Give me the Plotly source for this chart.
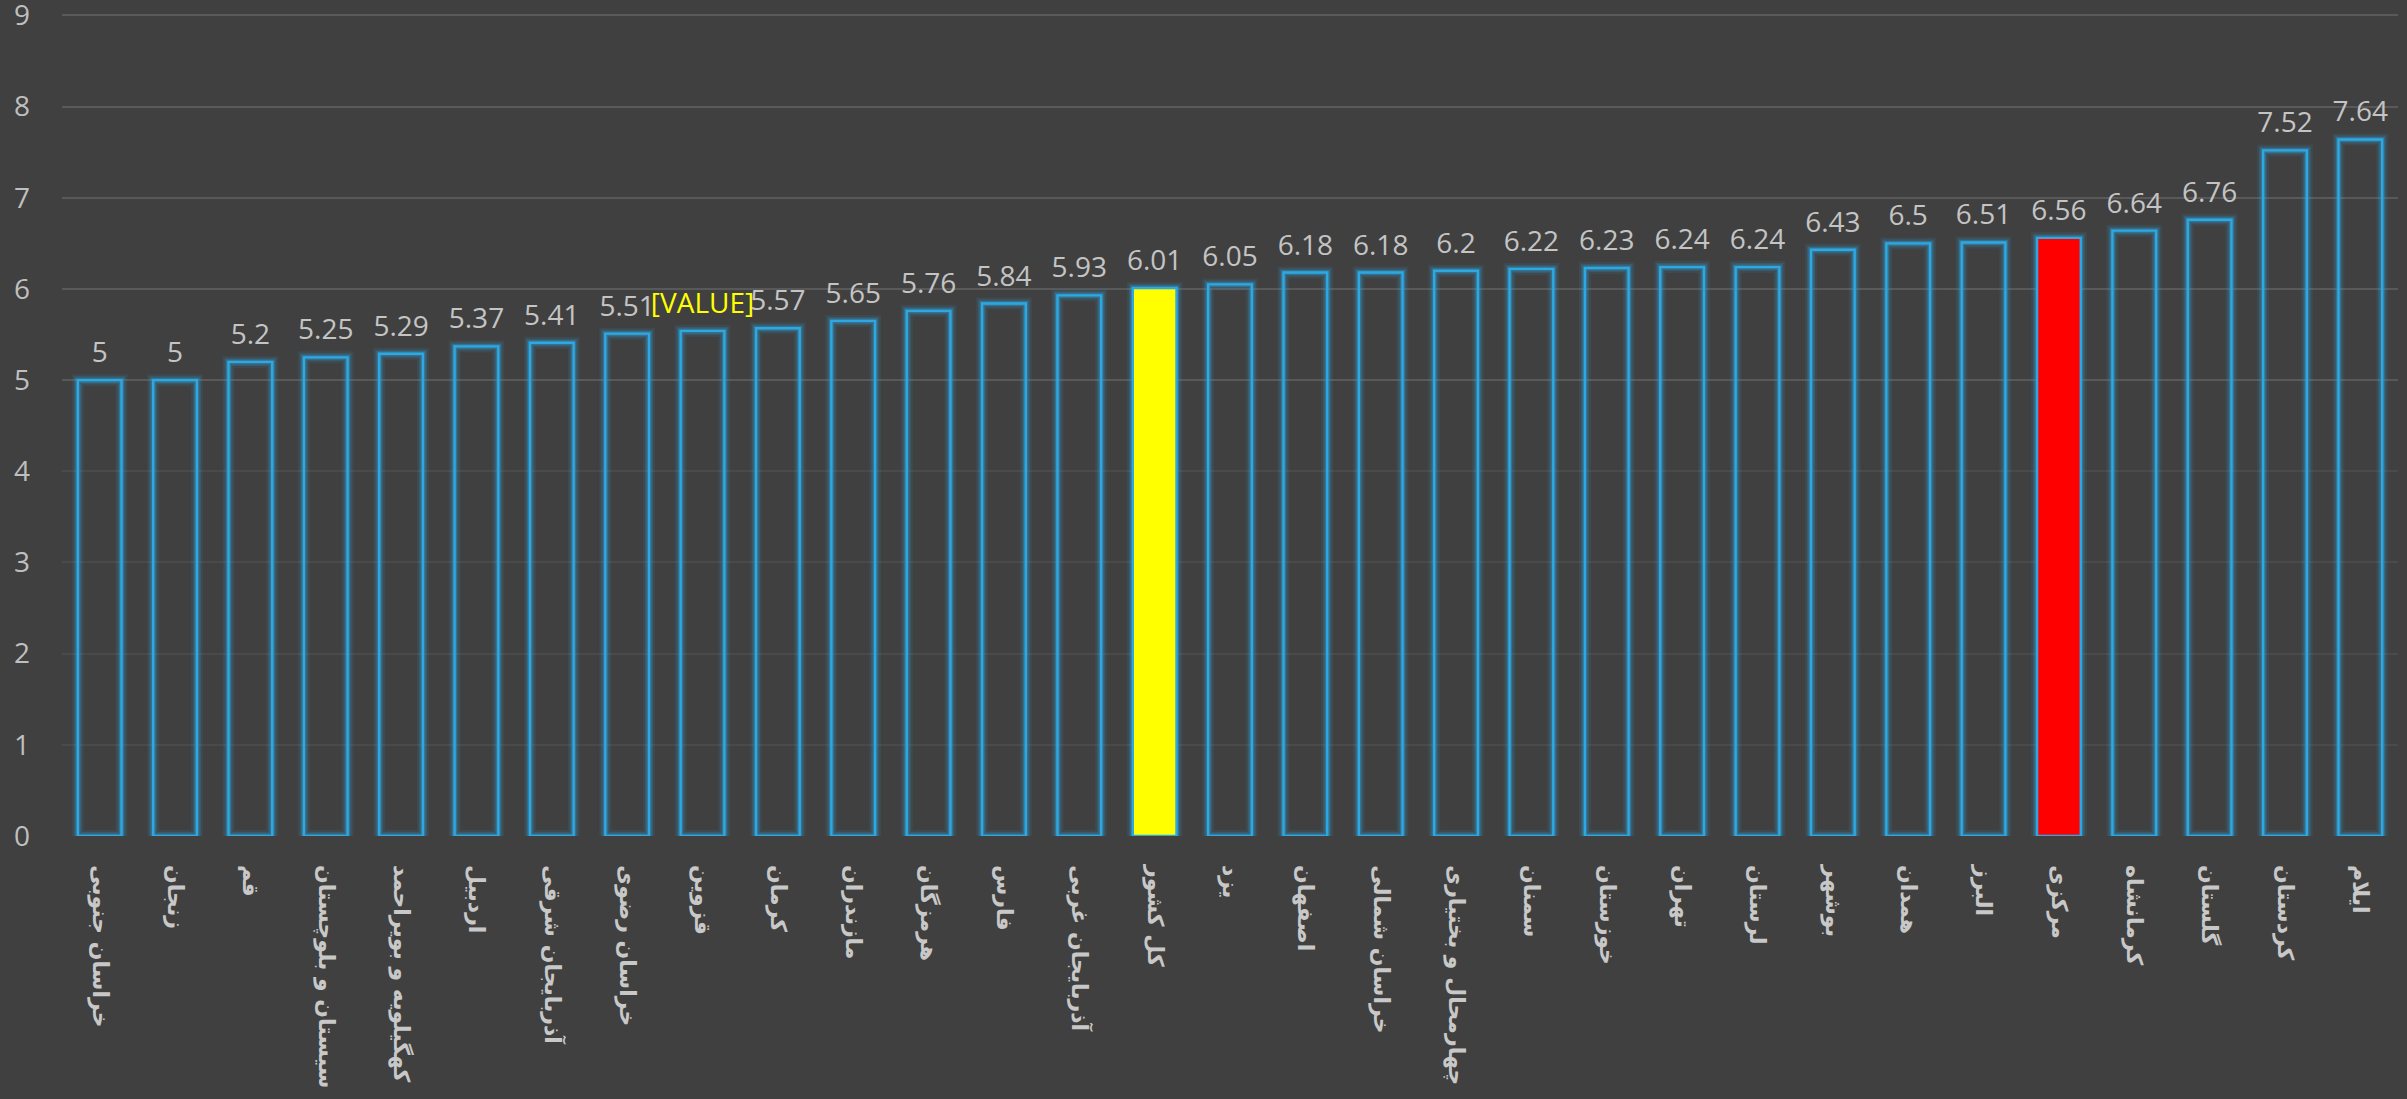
import plotly.graph_objects as go

categories = ["خراسان جنوبی", "زنجان", "قم", "سیستان و بلوچستان", "کهگیلویه و بویراحمد",
              "اردبیل", "آذربایجان شرقی", "خراسان رضوی", "قزوین", "کرمان", "مازندران",
              "هرمزگان", "فارس", "آذربایجان غربی", "کل کشور", "یزد", "اصفهان",
              "خراسان شمالی", "چهارمحال و بختیاری", "سمنان", "خوزستان", "تهران",
              "لرستان", "بوشهر", "همدان", "البرز", "مرکزی", "کرمانشاه", "گلستان",
              "کردستان", "ایلام"]
values = [5, 5, 5.2, 5.25, 5.29, 5.37, 5.41, 5.51, 5.54, 5.57, 5.65, 5.76, 5.84, 5.93,
          6.01, 6.05, 6.18, 6.18, 6.2, 6.22, 6.23, 6.24, 6.24, 6.43, 6.5, 6.51, 6.56,
          6.64, 6.76, 7.52, 7.64]
labels = [f"{v:g}" for v in values]
labels[categories.index("قزوین")] = "[VALUE]"

BG = "#404040"
BLUE = "#2ea8e2"
fills = ["rgba(0,0,0,0)"] * len(categories)
fills[categories.index("کل کشور")] = "#ffff00"
fills[categories.index("مرکزی")] = "#ff0000"
label_colors = ["#c4c4c4"] * len(categories)
label_colors[categories.index("قزوین")] = "#ffff00"

fig = go.Figure()
# glow layers
for w, a in [(12, 0.10), (8, 0.18), (5, 0.30)]:
    fig.add_trace(go.Bar(x=categories, y=values, marker=dict(color="rgba(0,0,0,0)",
                  line=dict(color=f"rgba(46,168,226,{a})", width=w)),
                  hoverinfo="skip", showlegend=False))
fig.add_trace(go.Bar(x=categories, y=values, marker=dict(color=fills, line=dict(color=BLUE, width=2.4)),
                     showlegend=False))
fig.add_trace(go.Scatter(x=categories, y=values, mode="markers+text", text=labels,
                         textposition="top center",
                         marker=dict(size=16, opacity=0),
                         textfont=dict(size=28, color=label_colors, family="Open Sans"),
                         showlegend=False, hoverinfo="skip"))
# brighter upper gridlines
fig.add_trace(go.Scatter(x=[categories[0]], y=[0], yaxis="y2", mode="markers",
                         marker=dict(opacity=0, size=1), showlegend=False, hoverinfo="skip"))

top = 9.06
fig.update_layout(
    width=2407, height=1099,
    paper_bgcolor=BG, plot_bgcolor=BG,
    barmode="overlay", bargap=0.42,
    margin=dict(l=62, r=9, t=10, b=263, autoexpand=False),
    xaxis=dict(range=[-0.5, len(categories) - 0.5], automargin=False,
               tickangle=90, tickfont=dict(size=22, color="#c8c8c8", family="DejaVu Sans", weight="bold"),
               showgrid=False, showline=False, zeroline=False, ticks="", ticklabelstandoff=28,
               ticklabeloverflow="allow"),
    yaxis=dict(range=[0, top], tickvals=list(range(10)), automargin=False,
               tickfont=dict(size=28, color="#bfbfbf", family="Open Sans"),
               gridcolor="#4a4a4a", gridwidth=1.5, zeroline=False, showline=False,
               ticks="", ticklabelstandoff=31, ticklabeloverflow="allow"),
    yaxis2=dict(range=[0, top], overlaying="y", tickvals=[5, 6, 7, 8, 9], showticklabels=False,
                gridcolor="#595959", gridwidth=1.5, zeroline=False, showline=False, layer="below traces"),
)
fig.write_html("out.html", config={"displayModeBar": False},
               post_script="document.body.style.margin='0px';document.body.style.background='#404040';")
